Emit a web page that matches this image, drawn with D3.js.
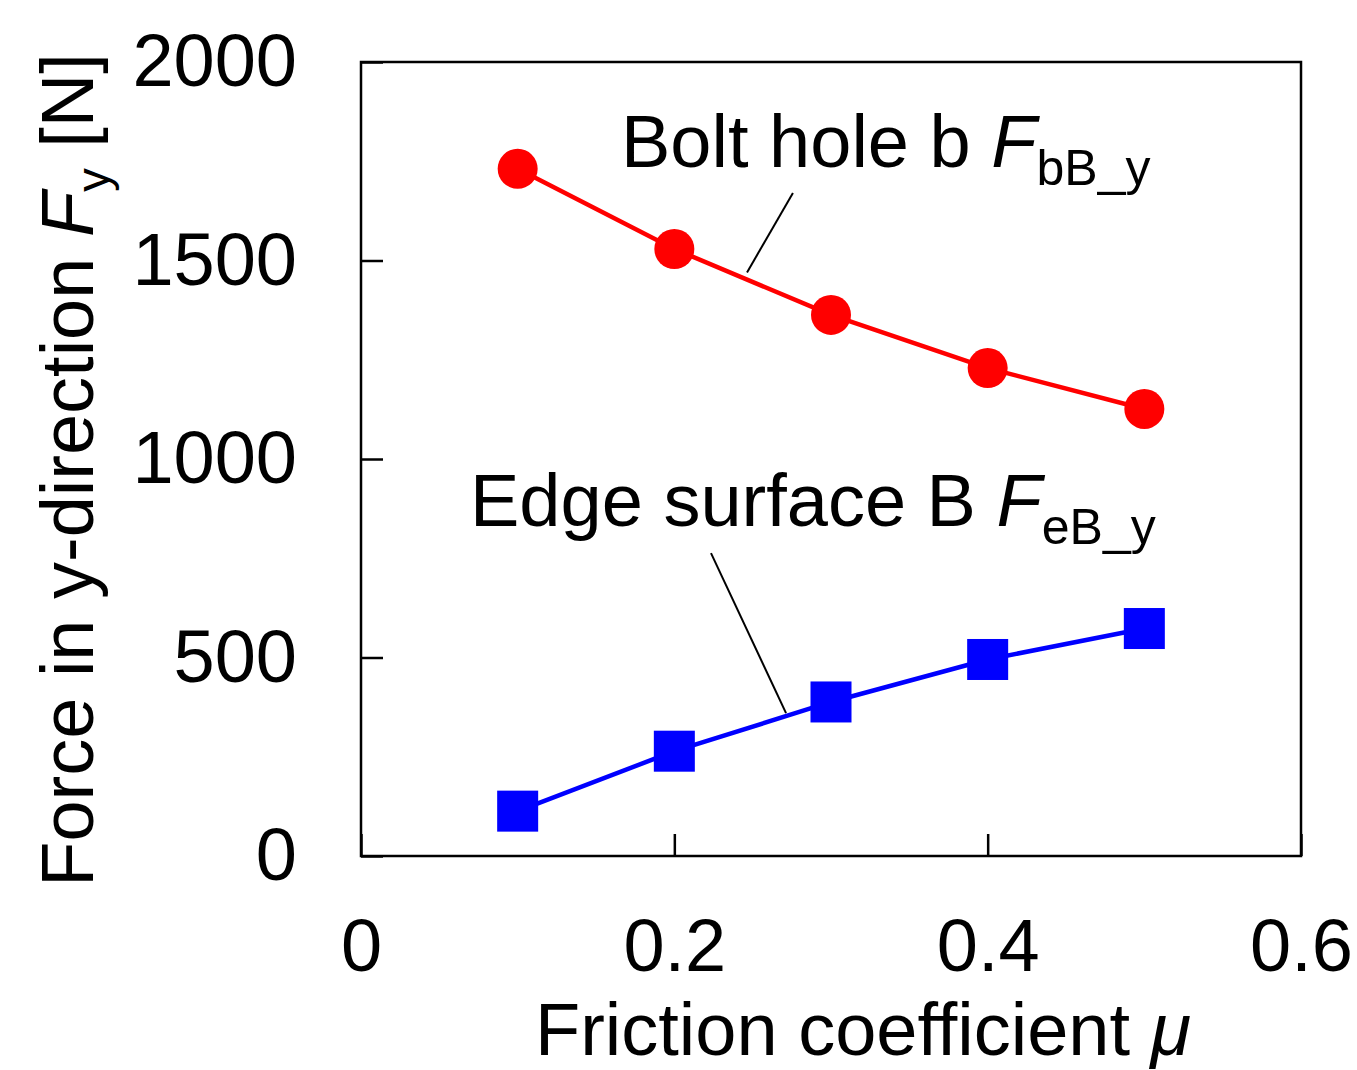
<!DOCTYPE html>
<html>
<head>
<meta charset="utf-8">
<script src="https://cdn.jsdelivr.net/npm/d3@7"></script>
<style>
  html, body { margin: 0; padding: 0; background: #fff; }
  svg { display: block; font-family: "Liberation Sans", Arial, Helvetica, sans-serif; }
</style>
</head>
<body>
<svg id="chart" width="1357" height="1070"></svg>
<script>
// ---- data ----
const mu = [0.1, 0.2, 0.3, 0.4, 0.5];
const boltHoleFy = [1731, 1529, 1363, 1229, 1126];
const edgeSurfaceFy = [113, 264, 388, 495, 573];
const xTicks = [0, 0.2, 0.4, 0.6];
const yTicks = [0, 500, 1000, 1500, 2000];
const xTickLabels = ["0", "0.2", "0.4", "0.6"];
const yTickLabels = ["0", "500", "1000", "1500", "2000"];
// leader lines in data coordinates: [x1,y1,x2,y2]
const boltLeader = [0.2757, 1670, 0.2464, 1470];
const edgeLeader = [0.2234, 763, 0.2713, 360];

// ---- layout ----
const margin = { left: 361, top: 62 };
const W = 940, H = 794;
const svg = d3.select("#chart");
const g = svg.append("g").attr("transform", `translate(${margin.left},${margin.top})`);

const x = d3.scaleLinear().domain([0, 0.6]).range([0, W]);
const y = d3.scaleLinear().domain([0, 2000]).range([H, 0]);

const fontSize = 74;

// axes
const xAxis = d3.axisBottom(x).tickValues(xTicks)
  .tickFormat((d, i) => xTickLabels[i]).tickSizeInner(-22).tickSizeOuter(0).tickPadding(62);
const yAxis = d3.axisLeft(y).tickValues(yTicks)
  .tickFormat((d, i) => yTickLabels[i]).tickSizeInner(-22).tickSizeOuter(0).tickPadding(64);

const gx = g.append("g").attr("transform", `translate(0,${H})`).call(xAxis);
const gy = g.append("g").call(yAxis);
[gx, gy].forEach(a => {
  a.select(".domain").remove();
  a.selectAll(".tick line").attr("stroke", "#000").attr("stroke-width", 2.5);
  a.selectAll(".tick text").attr("fill", "#000")
    .style("font-size", fontSize + "px")
    .style("font-family", '"Liberation Sans", Arial, sans-serif');
});

// frame
g.append("rect").attr("x", 0).attr("y", 0).attr("width", W).attr("height", H)
  .attr("fill", "none").attr("stroke", "#000").attr("stroke-width", 2.5);

// series
const line = d3.line().x(d => x(d[0])).y(d => y(d[1]));
const boltData = mu.map((m, i) => [m, boltHoleFy[i]]);
const edgeData = mu.map((m, i) => [m, edgeSurfaceFy[i]]);

g.append("path").datum(boltData).attr("d", line)
  .attr("fill", "none").attr("stroke", "#ff0000").attr("stroke-width", 4.5);
g.append("path").datum(edgeData).attr("d", line)
  .attr("fill", "none").attr("stroke", "#0000ff").attr("stroke-width", 4.5);

g.selectAll("circle.bolt").data(boltData).enter().append("circle")
  .attr("class", "bolt").attr("cx", d => x(d[0])).attr("cy", d => y(d[1]))
  .attr("r", 20).attr("fill", "#ff0000");

const sq = 41;
g.selectAll("rect.edge").data(edgeData).enter().append("rect")
  .attr("class", "edge").attr("x", d => x(d[0]) - sq / 2).attr("y", d => y(d[1]) - sq / 2)
  .attr("width", sq).attr("height", sq).attr("fill", "#0000ff");

// leader lines
[boltLeader, edgeLeader].forEach(l => {
  g.append("line").attr("x1", x(l[0])).attr("y1", y(l[1]))
    .attr("x2", x(l[2])).attr("y2", y(l[3]))
    .attr("stroke", "#000").attr("stroke-width", 2);
});

// annotations
function label(px, py, main, sub) {
  const t = svg.append("text").attr("x", px).attr("y", py)
    .attr("fill", "#000").style("font-size", fontSize + "px");
  t.append("tspan").text(main);
  t.append("tspan").style("font-style", "italic").text("F");
  t.append("tspan").attr("dy", 18).style("font-size", "50px").text(sub);
}
label(621, 167, "Bolt hole b ", "bB_y");
label(470, 526, "Edge surface B ", "eB_y");

// x title
const xt = svg.append("text").attr("x", 535).attr("y", 1055)
  .attr("fill", "#000").style("font-size", fontSize + "px");
xt.append("tspan").text("Friction coefficient ");
xt.append("tspan").style("font-style", "italic").text("μ");

// y title
const yt = svg.append("text").attr("transform", "translate(93,470) rotate(-90)")
  .attr("text-anchor", "middle").attr("fill", "#000").style("font-size", fontSize + "px");
yt.append("tspan").text("Force in y-direction ");
yt.append("tspan").style("font-style", "italic").text("F");
yt.append("tspan").attr("dy", 16).style("font-size", "47px").text("y");
yt.append("tspan").attr("dy", -16).text(" [N]");
</script>
</body>
</html>
